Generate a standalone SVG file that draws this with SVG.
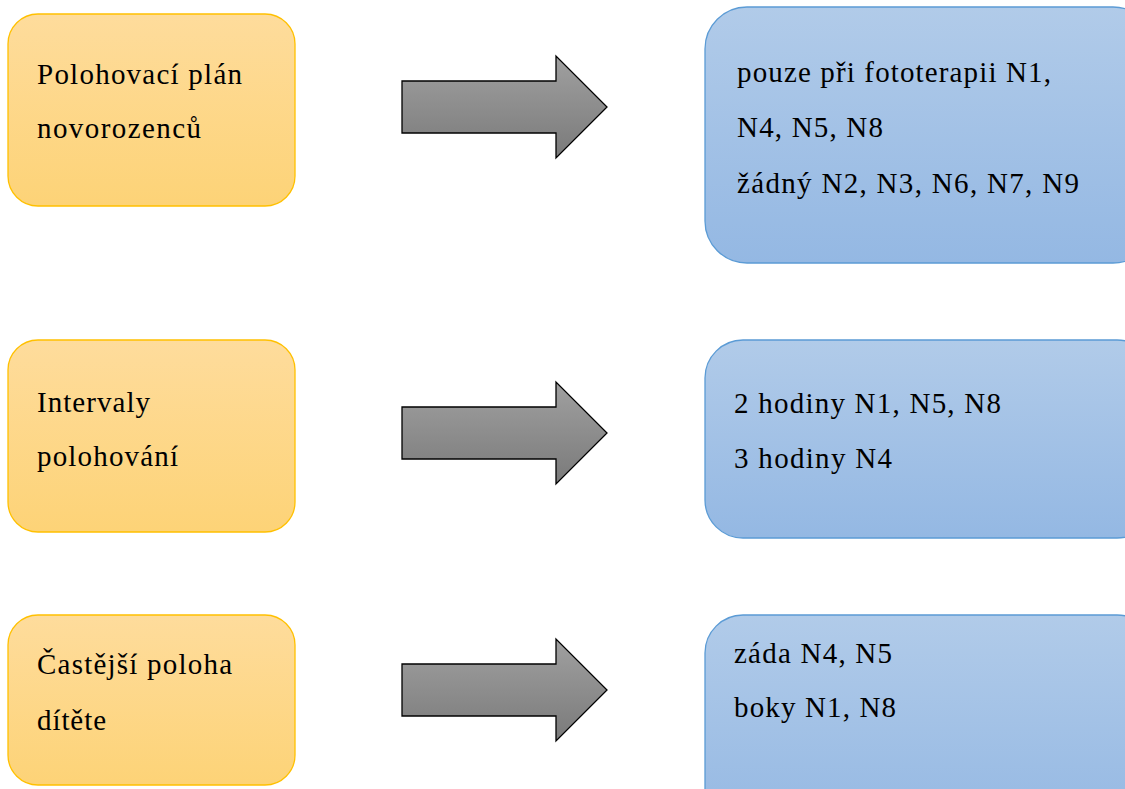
<svg xmlns="http://www.w3.org/2000/svg" width="1125" height="789" viewBox="0 0 1125 789">
  <style>
    .src { fill: url(#gOrange); stroke: #FFC000; stroke-width: 1.3; }
    .dst { fill: url(#gBlue); stroke: #5B9BD5; stroke-width: 1.3; }
    .arrow { fill: url(#gGray); stroke: #000; stroke-width: 1.3; stroke-linejoin: miter; }
  </style>
  <defs>
    <linearGradient id="gOrange" x1="0" y1="0" x2="0" y2="1">
      <stop offset="0" stop-color="#FEDC9C"/>
      <stop offset="1" stop-color="#FDD377"/>
    </linearGradient>
    <linearGradient id="gBlue" x1="0" y1="0" x2="0" y2="1">
      <stop offset="0" stop-color="#B1CBE9"/>
      <stop offset="1" stop-color="#94B8E3"/>
    </linearGradient>
    <linearGradient id="gGray" x1="0" y1="0" x2="0" y2="1">
      <stop offset="0" stop-color="#A0A0A0"/>
      <stop offset="1" stop-color="#7A7A7A"/>
    </linearGradient>
  </defs>

  <rect width="1125" height="789" fill="#fff"/>

  <g font-family="Liberation Serif, Times New Roman, DejaVu Serif, serif" font-size="29" fill="#000">
    <!-- row 1 -->
    <g id="node-plan">
      <rect class="src" x="8" y="14" width="287" height="192" rx="30"/>
      <text x="37" y="84" textLength="205">Polohovací plán</text>
      <text x="37" y="138" textLength="164">novorozenců</text>
    </g>
    <g id="node-plan-result">
      <rect class="dst" x="705" y="7" width="450" height="256" rx="42"/>
      <text x="737" y="82" textLength="314">pouze při fototerapii N1,</text>
      <text x="737" y="137" textLength="146">N4, N5, N8</text>
      <text x="737" y="193" textLength="342">žádný N2, N3, N6, N7, N9</text>
    </g>

    <!-- row 2 -->
    <g id="node-interval">
      <rect class="src" x="8" y="340" width="287" height="192" rx="30"/>
      <text x="37" y="412" textLength="113">Intervaly</text>
      <text x="37" y="466" textLength="141">polohování</text>
    </g>
    <g id="node-interval-result">
      <rect class="dst" x="705" y="340" width="450" height="198" rx="38"/>
      <text x="734" y="413" textLength="267">2 hodiny N1, N5, N8</text>
      <text x="734" y="468" textLength="158">3 hodiny N4</text>
    </g>

    <!-- row 3 -->
    <g id="node-position">
      <rect class="src" x="8" y="615" width="287" height="170" rx="30"/>
      <text x="37" y="674" textLength="195">Častější poloha</text>
      <text x="37" y="730" textLength="69">dítěte</text>
    </g>
    <g id="node-position-result">
      <rect class="dst" x="705" y="615" width="450" height="220" rx="38"/>
      <text x="734" y="663" textLength="158">záda N4, N5</text>
      <text x="734" y="717" textLength="162">boky N1, N8</text>
    </g>
  </g>

  <!-- block arrows -->
  <g id="connectors">
    <polygon class="arrow" points="402,81 556,81 556,56 607,107 556,158 556,133 402,133"/>
    <polygon class="arrow" points="402,407 556,407 556,382 607,433 556,484 556,459 402,459"/>
    <polygon class="arrow" points="402,664 556,664 556,639 607,690 556,741 556,716 402,716"/>
  </g>
</svg>
